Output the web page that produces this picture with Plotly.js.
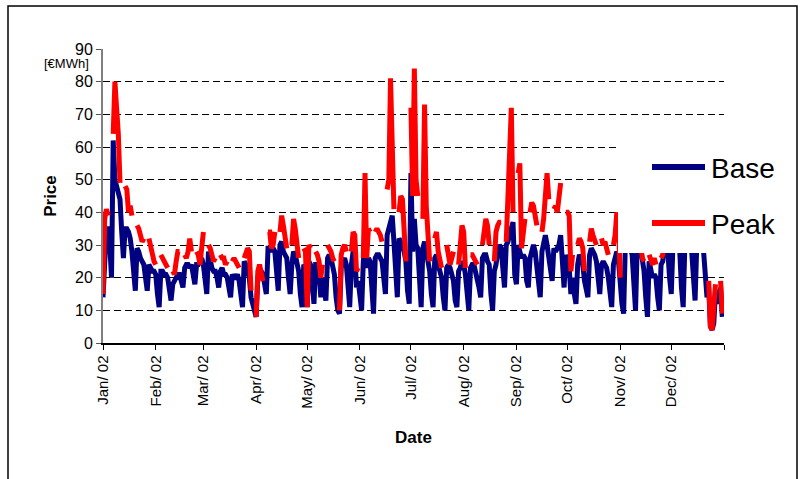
<!DOCTYPE html>
<html>
<head>
<meta charset="utf-8">
<script src="https://cdn.plot.ly/plotly-3.0.1.min.js"></script>
<style>
  body { margin: 0; background: #fff; }
  #chart { width: 811px; height: 479px; }
</style>
</head>
<body>
<div id="chart"></div>
<script>
// daily prices 2002, one line per week (Mon..Sun), first week starts Tue 1 Jan
const startDate = '2002-01-01';

const base = [
  14, 25, 35, 35, 30, 20,
  62, 50, 48, 47, 44, 34, 26,
  35, 35, 34, 32, 28, 22, 16,
  29, 28, 26, 25, 24, 20, 16,
  24, 23, 22, 22, 21, 15, 11,
  22, 22, 21, 21, 20, 16, 13,
  18, 19, 20, 21, 21, 19, 17,
  23, 24, 24, 23, 24, 21, 18,
  24, 24, 25, 26, 24, 18, 15,
  28, 25, 23, 22, 22, 20, 17,
  22, 23, 21, 21, 20, 16, 14,
  21, 20, 20, 21, 19, 15, 11,
  25, 24, 22, 20, 14, 12, 9,
  8, 20, 22, 22, 21, 18, 15,
  29, 29, 28, 29, 28, 20, 16,
  30, 31, 28, 27, 26, 20, 15,
  24, 28, 27, 25, 22, 15, 11,
  24, 23, 11, 25, 24, 18, 12,
  24, 24, 22, 14, 20, 17, 13,
  26, 27, 26, 24, 21, 14, 10,
  9, 23, 25, 26, 24, 14, 11,
  24, 28, 27, 17, 19, 14, 10,
  25, 30, 23, 26, 25, 13, 9,
  26, 27, 27, 26, 25, 20, 15,
  33, 35, 36, 39, 31, 20, 14,
  32, 31, 30, 28, 25, 16, 12,
  52, 28, 38, 30, 29, 18, 11,
  29, 31, 28, 24, 22, 15, 11,
  26, 27, 24, 22, 20, 14, 10,
  23, 24, 23, 21, 19, 13, 11,
  22, 23, 25, 24, 21, 14, 10,
  23, 24, 24, 22, 20, 17, 14,
  26, 27, 27, 25, 24, 15, 10,
  22, 24, 28, 30, 29, 20, 17,
  30, 31, 33, 36, 37, 21, 18,
  30, 28, 26, 27, 26, 19, 17,
  26, 29, 30, 28, 22, 16, 14,
  28, 31, 33, 30, 26, 21, 19,
  29, 28, 29, 30, 33, 23, 17,
  27, 25, 23, 15, 20, 15, 12,
  24, 27, 26, 24, 19, 16, 14,
  27, 29, 28, 27, 25, 19, 15,
  24, 25, 24, 23, 20, 15, 11,
  24, 26, 28, 25, 16, 12, 9,
  30, 31, 30, 29, 27, 15, 10,
  30, 31, 29, 26, 22, 14, 8,
  25, 22, 20, 21, 20, 14, 10,
  24, 25, 30, 29, 28, 20, 15,
  30, 31, 30, 29, 28, 17, 11,
  30, 31, 31, 30, 28, 18, 13,
  30, 31, 31, 30, 28, 20, 14,
  17, 5, 4, 6, 16, 15, 12,
  17, 8
];

// peak only on working days, weekends left empty
const peak = [
  15, 38, 41, 39, null, null,
  64, 80, 72, 64, 49, null, null,
  48, 47, 40, 42, 39, null, null,
  36, 35, 33, 31, 32, null, null,
  32, 29, 27, 25, 24, null, null,
  27, 26, 25, 24, 23, null, null,
  22, 21, 25, 28, 28, null, null,
  27, 26, 28, 32, 28, null, null,
  28, 27, 24, 29, 34, null, null,
  30, 29, 27, 25, 26, null, null,
  27, 26, 26, 24, 25, null, null,
  25, 26, 25, 24, 23, null, null,
  26, 28, 29, 28, 16, null, null,
  8, 22, 24, 21, 19, null, null,
  34, 34, 29, 30, 34, null, null,
  34, 39, 36, 31, 29, null, null,
  30, 38, 35, 30, 26, null, null,
  29, 28, 11, 30, 29, null, null,
  28, 27, 25, 20, 24, null, null,
  30, 29, 28, 26, 25, null, null,
  10, 27, 29, 30, 28, null, null,
  28, 34, 33, 22, 23, null, null,
  26, 52, 26, 35, 34, null, null,
  34, 35, 34, 33, 31, null, null,
  47, 50, 81, 60, 41, null, null,
  40, 45, 44, 35, 25, null, null,
  72, 45, 84, 50, 45, null, null,
  38, 73, 42, 30, 25, null, null,
  32, 34, 28, 25, 23, null, null,
  30, 26, 24, 26, 28, null, null,
  24, 29, 36, 34, 23, null, null,
  27, 27, 26, 25, 24, null, null,
  30, 35, 38, 36, 30, null, null,
  25, 34, 36, 37, 37, null, null,
  31, 45, 54, 72, 40, null, null,
  52, 55, 29, 36, 38, null, null,
  40, 43, 42, 38, 36, null, null,
  34, 38, 45, 52, 44, null, null,
  41, 42, 40, 44, 49, null, null,
  40, 40, 39, 22, 27, null, null,
  30, 32, 31, 29, 22, null, null,
  31, 35, 33, 31, 30, null, null,
  32, 30, 31, 28, 27, null, null,
  30, 33, 40, 36, 20, null, null,
  34, 35, 33, 32, 30, null, null,
  33, 34, 30, 26, 25, null, null,
  27, 25, 24, 26, 24, null, null,
  26, 27, 33, 34, 33, null, null,
  33, 34, 33, 32, 30, null, null,
  34, 35, 34, 33, 31, null, null,
  34, 35, 34, 33, 31, null, null,
  19, 5, 4, 10, 18, null, null,
  19, 9
];

const monthTicks = ['2002-01-01', '2002-02-01', '2002-03-01', '2002-04-01', '2002-05-01', '2002-06-01',
  '2002-07-01', '2002-08-01', '2002-09-01', '2002-10-01', '2002-11-01', '2002-12-01', '2003-01-01'];
const monthLabels = ['Jan/ 02', 'Feb/ 02', 'Mar/ 02', 'Apr/ 02', 'May/ 02', 'Jun/ 02',
  'Jul/ 02', 'Aug/ 02', 'Sep/ 02', 'Oct/ 02', 'Nov/ 02', 'Dec/ 02', ''];

const days = [];
const t0 = new Date(startDate + 'T00:00:00Z');
for (let i = 0; i < base.length; i++) {
  const d = new Date(t0.getTime() + i * 86400000);
  days.push(d.toISOString().slice(0, 10));
}

// plot area in px, used to place the legend and the frame in paper units
const plotL = 103, plotR = 724, plotT = 49, plotB = 343;
const px = (x) => (x - plotL) / (plotR - plotL);
const py = (y) => (plotB - y) / (plotB - plotT);

const font = 'Arial, "Liberation Sans", sans-serif';

const traces = [
  {
    x: days, y: base, name: 'Base', type: 'scatter', mode: 'lines',
    line: {color: '#000080', width: 5}
  },
  {
    x: days, y: peak, name: 'Peak', type: 'scatter', mode: 'lines',
    connectgaps: false,
    line: {color: '#ff0000', width: 5}
  }
];

const layout = {
  width: 811,
  height: 479,
  margin: {l: plotL, r: 811 - plotR, t: plotT, b: 479 - plotB, pad: 0},
  paper_bgcolor: '#fff',
  plot_bgcolor: '#fff',
  showlegend: false,
  font: {family: font, color: '#000'},
  xaxis: {
    type: 'date',
    range: ['2002-01-01', '2003-01-01'],
    tickmode: 'array',
    tickvals: monthTicks,
    ticktext: monthLabels,
    tickangle: -90,
    tickfont: {size: 15, family: font},
    ticks: 'outside', ticklen: 5, tickcolor: '#000', tickwidth: 1,
    showline: true, linecolor: '#000', linewidth: 1.5,
    showgrid: false, zeroline: false,
    title: {text: 'Date', font: {size: 17, family: font, weight: 'bold'}, standoff: 23}
  },
  yaxis: {
    range: [0, 90],
    tick0: 0, dtick: 10,
    tickfont: {size: 16, family: font},
    ticks: 'outside', ticklen: 5, tickcolor: '#555', tickwidth: 1,
    showline: true, linecolor: '#808080', linewidth: 2,
    showgrid: true, gridcolor: '#000', gridwidth: 1, griddash: '7px,4px',
    zeroline: false,
    title: {text: 'Price', font: {size: 17, family: font, weight: 'bold'}, standoff: 14}
  },
  shapes: [
    // outer frame
    {type: 'rect', xref: 'paper', yref: 'paper', layer: 'above',
      x0: px(8), x1: px(797), y0: py(490), y1: py(6),
      line: {color: '#000', width: 1.5}, fillcolor: 'rgba(0,0,0,0)'},
    // legend box sits on top of the lines
    {type: 'rect', xref: 'paper', yref: 'paper', layer: 'above',
      x0: px(618), x1: px(792), y0: py(253), y1: py(128),
      line: {width: 0}, fillcolor: '#fff'},
    {type: 'line', xref: 'paper', yref: 'paper', layer: 'above',
      x0: px(652), x1: px(705), y0: py(167), y1: py(167),
      line: {color: '#000080', width: 6}},
    {type: 'line', xref: 'paper', yref: 'paper', layer: 'above',
      x0: px(652), x1: px(705), y0: py(223), y1: py(223),
      line: {color: '#ff0000', width: 6}}
  ],
  annotations: [
    {text: 'Base', xref: 'paper', yref: 'paper', x: px(709), y: py(168),
      xanchor: 'left', yanchor: 'middle', showarrow: false, font: {size: 28, family: font}},
    {text: 'Peak', xref: 'paper', yref: 'paper', x: px(709), y: py(224),
      xanchor: 'left', yanchor: 'middle', showarrow: false, font: {size: 28, family: font}},
    {text: '[€MWh]', xref: 'paper', yref: 'paper', x: px(91), y: py(64),
      xanchor: 'right', yanchor: 'middle', showarrow: false, font: {size: 13, family: font}}
  ]
};

Plotly.newPlot('chart', traces, layout, {displayModeBar: false, staticPlot: true});
</script>
</body>
</html>
